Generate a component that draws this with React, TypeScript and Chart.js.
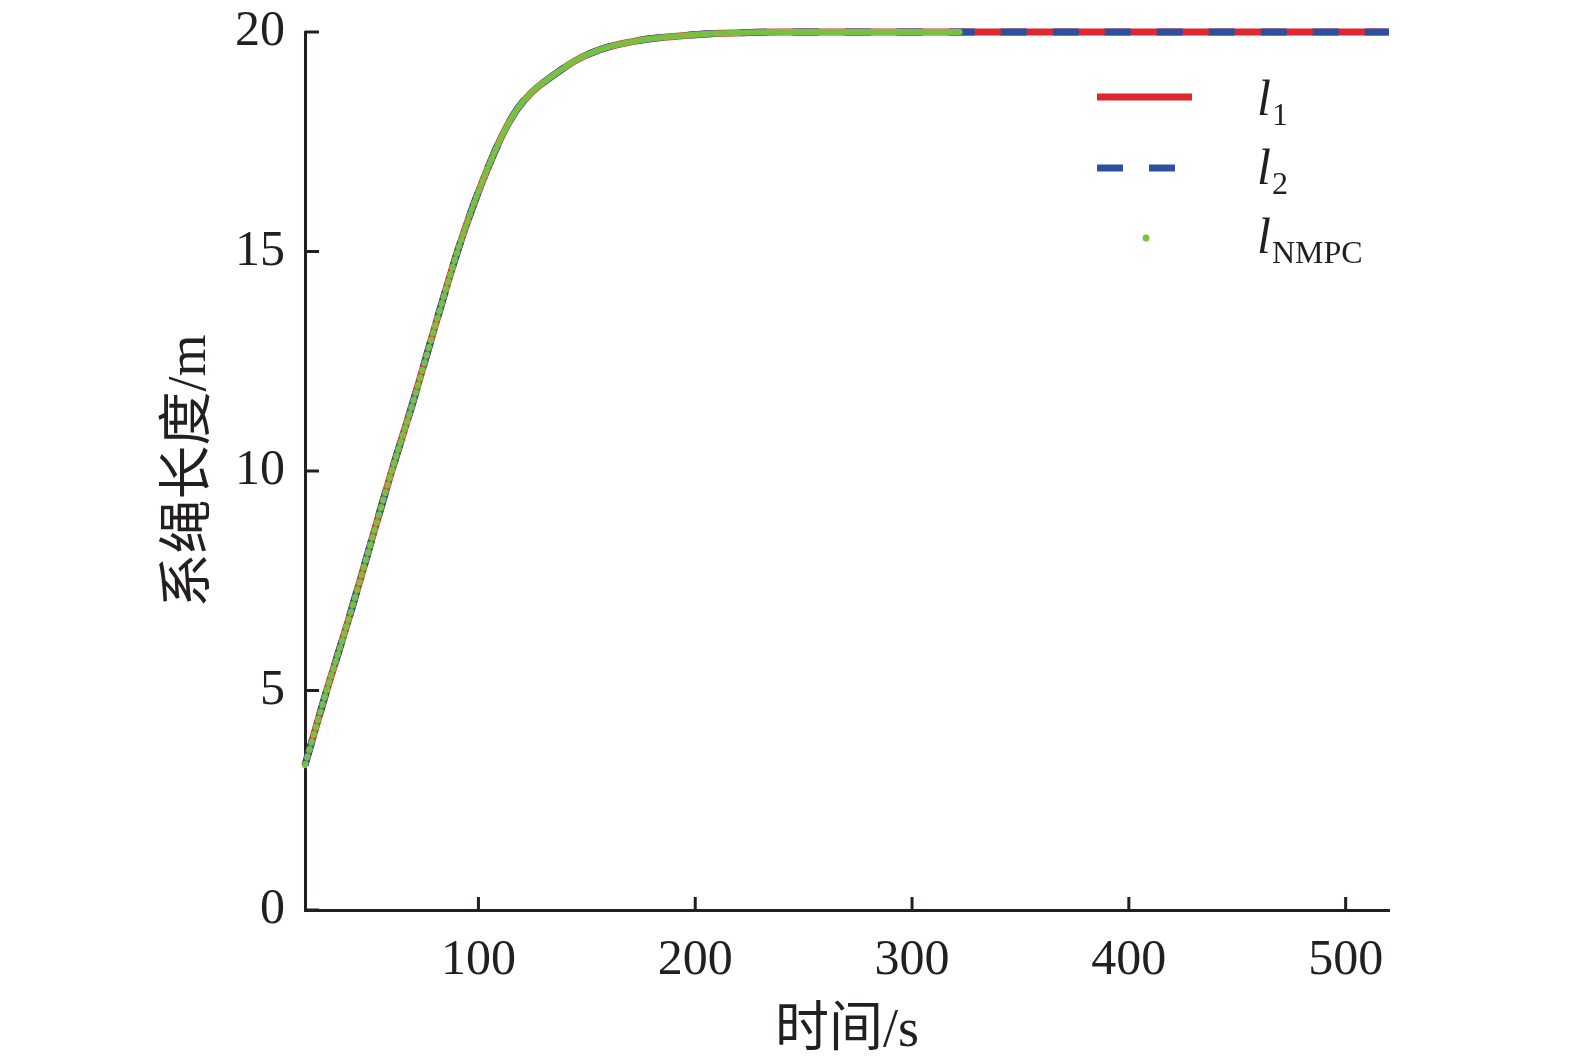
import React, { useEffect, useRef } from 'react';
import { Chart, registerables } from 'chart.js';

Chart.register(...registerables);

// sample times (s), denser at the knee
const timeS = [
  20, 30, 40, 50, 60, 70, 80, 90, 98, 106, 112, 118, 124, 130, 137, 144, 152, 160,
  170, 180, 190, 200, 212, 225, 240, 260, 280, 300, 322, 340, 360, 380, 400, 420,
  440, 460, 480, 500, 520,
];
// tether length l1 (m)
const ropeL1 = [
  3.3, 5.0, 6.6, 8.3, 10.0, 11.6, 13.3, 14.95, 16.1, 17.1, 17.75, 18.25, 18.6, 18.85,
  19.1, 19.33, 19.52, 19.66, 19.77, 19.85, 19.9, 19.94, 19.97, 19.99, 20, 20, 20, 20,
  20, 20, 20, 20, 20, 20, 20, 20, 20, 20, 20,
];
// tether length l2 (m)
const ropeL2 = [
  3.3, 5.0, 6.6, 8.3, 10.0, 11.6, 13.3, 14.95, 16.1, 17.1, 17.75, 18.25, 18.6, 18.85,
  19.1, 19.33, 19.52, 19.66, 19.77, 19.85, 19.9, 19.94, 19.97, 19.99, 20, 20, 20, 20,
  20, 20, 20, 20, 20, 20, 20, 20, 20, 20, 20,
];
// NMPC result, only plotted up to 322 s
const ropeNmpc = [
  3.3, 5.0, 6.6, 8.3, 10.0, 11.6, 13.3, 14.95, 16.1, 17.1, 17.75, 18.25, 18.6, 18.85,
  19.1, 19.33, 19.52, 19.66, 19.77, 19.85, 19.9, 19.94, 19.97, 19.99, 20, 20, 20, 20,
  20, null, null, null, null, null, null, null, null, null, null,
];

const xTicks = [100, 200, 300, 400, 500];
const yTicks = [0, 5, 10, 15, 20];

const RED = '#e0262f';
const BLUE = '#2d4f9f';
const GREEN = '#77c043';
const INK = '#231f20';
const SERIF = "'Liberation Serif', 'Times New Roman', 'Noto Sans CJK SC', serif";

const toPoints = (ys: (number | null)[]) => timeS.map((t, i) => ({ x: t, y: ys[i] }));

const overlay = {
  id: 'overlay',
  afterDraw(chart: any) {
    const { ctx, chartArea, scales } = chart;
    const x = scales.x;
    const y = scales.y;
    ctx.save();
    // inward tick marks
    ctx.strokeStyle = INK;
    ctx.lineWidth = 3;
    xTicks.forEach((v) => {
      const px = x.getPixelForValue(v);
      ctx.beginPath();
      ctx.moveTo(px, chartArea.bottom);
      ctx.lineTo(px, chartArea.bottom - 13);
      ctx.stroke();
    });
    yTicks.forEach((v) => {
      const py = y.getPixelForValue(v);
      ctx.beginPath();
      ctx.moveTo(chartArea.left, py);
      ctx.lineTo(chartArea.left + 14, py);
      ctx.stroke();
    });

    // legend
    ctx.lineWidth = 7;
    ctx.strokeStyle = RED;
    ctx.beginPath();
    ctx.moveTo(1097, 97);
    ctx.lineTo(1192, 97);
    ctx.stroke();
    ctx.strokeStyle = BLUE;
    ctx.setLineDash([26, 26]);
    ctx.beginPath();
    ctx.moveTo(1097, 168);
    ctx.lineTo(1175, 168);
    ctx.stroke();
    ctx.setLineDash([]);
    ctx.fillStyle = GREEN;
    ctx.beginPath();
    ctx.arc(1146, 238, 3.5, 0, Math.PI * 2);
    ctx.fill();

    ctx.fillStyle = INK;
    ctx.textAlign = 'left';
    ctx.textBaseline = 'alphabetic';
    const entry = (sub: string, base: number) => {
      ctx.font = `italic 50px ${SERIF}`;
      ctx.fillText('l', 1257, base);
      ctx.font = `32px ${SERIF}`;
      ctx.fillText(sub, 1272, base + 10);
    };
    entry('1', 115);
    entry('2', 184);
    entry('NMPC', 253);
    ctx.restore();
  },
};

export default function App() {
  const canvasRef = useRef<HTMLCanvasElement>(null);
  const chartRef = useRef<Chart | null>(null);

  useEffect(() => {
    document.body.style.margin = '0';
    if (!canvasRef.current) return;
    if (chartRef.current) chartRef.current.destroy();

    const ctx = canvasRef.current.getContext('2d');
    if (!ctx) return;

    chartRef.current = new Chart(ctx, {
      type: 'line',
      data: {
        datasets: [
          {
            label: 'l1',
            data: toPoints(ropeL1),
            borderColor: RED,
            borderWidth: 7,
            pointRadius: 0,
            cubicInterpolationMode: 'monotone',
            clip: false,
            order: 3,
          },
          {
            label: 'l2',
            data: toPoints(ropeL2),
            borderColor: BLUE,
            borderWidth: 7,
            borderDash: [26, 26],
            pointRadius: 0,
            cubicInterpolationMode: 'monotone',
            clip: false,
            order: 2,
          },
          {
            label: 'lNMPC',
            data: toPoints(ropeNmpc),
            borderColor: GREEN,
            borderWidth: 6,
            borderCapStyle: 'round',
            pointRadius: 0,
            cubicInterpolationMode: 'monotone',
            clip: false,
            order: 1,
            segment: {
              // samples every 1 s: dotted where they spread out, solid where they overlap
              borderDash: (c: any) => {
                const dt = c.p1.parsed.x - c.p0.parsed.x;
                const len = Math.hypot(c.p1.x - c.p0.x, c.p1.y - c.p0.y);
                const step = len / dt;
                return step > 4.5 ? [1.5, step - 1.5] : undefined;
              },
            },
          },
        ] as any,
      },
      options: {
        animation: false,
        responsive: true,
        maintainAspectRatio: false,
        layout: { autoPadding: false, padding: { top: 32, right: 186, left: 0, bottom: 0 } },
        plugins: {
          legend: { display: false },
          tooltip: { enabled: false },
        },
        scales: {
          x: {
            type: 'linear',
            min: 20,
            max: 520,
            afterBuildTicks: (s: any) => {
              s.ticks = xTicks.map((v) => ({ value: v }));
            },
            afterFit: (s: any) => {
              s.height = 154;
              s.paddingLeft = 0;
              s.paddingRight = 0;
            },
            grid: { display: false, drawTicks: false },
            border: { display: true, color: INK, width: 3 },
            ticks: {
              color: INK,
              padding: 21,
              font: { family: SERIF, size: 50, lineHeight: 1.2 },
            },
            title: {
              display: true,
              text: '时间/s',
              color: INK,
              font: { family: SERIF, size: 54, lineHeight: 1.2 },
              padding: { top: 0, bottom: 0 },
            },
          },
          y: {
            type: 'linear',
            min: 0,
            max: 20,
            afterBuildTicks: (s: any) => {
              s.ticks = yTicks.map((v) => ({ value: v }));
            },
            afterFit: (s: any) => {
              s.width = 305;
              s.paddingTop = 0;
              s.paddingBottom = 0;
            },
            grid: { display: false, drawTicks: false },
            border: { display: true, color: INK, width: 3 },
            ticks: {
              color: INK,
              padding: 20,
              font: { family: SERIF, size: 50, lineHeight: 1.2 },
            },
            title: {
              display: true,
              text: '系绳长度/m',
              color: INK,
              font: { family: SERIF, size: 54, lineHeight: 1.2 },
              padding: { top: 158, bottom: 0 },
            },
          },
        },
      },
      plugins: [overlay],
    });

    return () => {
      if (chartRef.current) {
        chartRef.current.destroy();
        chartRef.current = null;
      }
    };
  }, []);

  return (
    <div style={{ position: 'fixed', left: 0, top: 0, width: 1575, height: 1064 }}>
      <canvas ref={canvasRef} />
    </div>
  );
}
